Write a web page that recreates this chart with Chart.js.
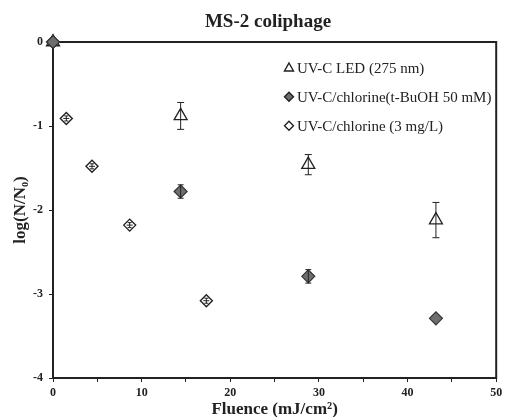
<!DOCTYPE html>
<html>
<head>
<meta charset="utf-8">
<script src="https://cdn.jsdelivr.net/npm/chart.js@4/dist/chart.umd.min.js"></script>
<style>
html,body{margin:0;padding:0;background:#fff;}
#wrap{width:505px;height:417px;}
</style>
</head>
<body>
<div id="wrap"><canvas id="c" width="505" height="417"></canvas></div>
<script>
const chartTitle = 'MS-2 coliphage';
const xTitle = 'Fluence (mJ/cm\u00B2)';
const yTitle = 'log(N/N\u2080)';
const seriesNames = ['UV-C LED (275 nm)', 'UV-C/chlorine(t-BuOH 50 mM)', 'UV-C/chlorine (3 mg/L)'];

const ledX = [0, 14.4, 28.8, 43.2];
const ledY = [0, -0.88, -1.46, -2.12];
const ledErr = [0, 0.16, 0.12, 0.21];

const tbuX = [0, 14.4, 28.8, 43.2];
const tbuY = [0, -1.78, -2.79, -3.29];
const tbuErr = [0, 0.08, 0.08, 0];

const clX = [0, 1.5, 4.4, 8.65, 17.3];
const clY = [0, -0.91, -1.48, -2.18, -3.08];
const clErr = [0, 0.03, 0.03, 0.03, 0.03];

const xTickValues = [0, 5, 10, 15, 20, 25, 30, 35, 40, 45, 50];
const xTickLabels = ['0', '', '10', '', '20', '', '30', '', '40', '', '50'];
const yTickValues = [0, -1, -2, -3, -4];
const yTickLabels = ['0', '-1', '-2', '-3', '-4'];

const INK = '#222';
const SERIF = "'Liberation Serif', 'Times New Roman', serif";

function pts(xs, ys) { return xs.map((v, i) => ({x: v, y: ys[i]})); }

const errorBars = {
  id: 'errorBars',
  afterDatasetsDraw(chart) {
    const {ctx, scales: {x, y}} = chart;
    ctx.save();
    ctx.strokeStyle = INK;
    ctx.lineWidth = 1;
    chart.data.datasets.forEach((ds) => {
      if (!ds.yErr) return;
      ds.data.forEach((p, j) => {
        const e = ds.yErr[j];
        if (!e) return;
        const px = x.getPixelForValue(p.x);
        const t = y.getPixelForValue(p.y + e);
        const b = y.getPixelForValue(p.y - e);
        const cw = ds.capHalf;
        ctx.beginPath();
        ctx.moveTo(px, t); ctx.lineTo(px, b);
        ctx.moveTo(px - cw, t); ctx.lineTo(px + cw, t);
        ctx.moveTo(px - cw, b); ctx.lineTo(px + cw, b);
        if (ds.xCross) {
          const py = y.getPixelForValue(p.y);
          ctx.moveTo(px - 3, py); ctx.lineTo(px + 3, py);
        }
        ctx.stroke();
      });
    });
    ctx.restore();
  }
};

const frame = {
  id: 'frame',
  beforeDatasetsDraw(chart) {
    const {ctx, chartArea: a} = chart;
    ctx.save();
    ctx.strokeStyle = INK;
    ctx.lineWidth = 2;
    ctx.strokeRect(a.left, a.top, a.right - a.left, a.bottom - a.top);
    ctx.restore();
  }
};

const decor = {
  id: 'decor',
  afterDraw(chart) {
    const {ctx} = chart;
    ctx.save();
    ctx.fillStyle = INK;
    ctx.font = "bold 19px " + SERIF;
    ctx.textAlign = 'center';
    ctx.textBaseline = 'alphabetic';
    ctx.fillText(chartTitle, 268, 27);
    const lx = 289, tx = 297;
    const rows = [67.5, 96.7, 125.7];
    ctx.font = "15px " + SERIF;
    ctx.textAlign = 'left';
    ctx.lineWidth = 1.4;
    rows.forEach((ry, i) => {
      ctx.beginPath();
      if (i === 0) {
        ctx.moveTo(lx, ry - 4.5); ctx.lineTo(lx + 4.5, ry + 3.5); ctx.lineTo(lx - 4.5, ry + 3.5); ctx.closePath();
        ctx.fillStyle = '#fff'; ctx.fill(); ctx.strokeStyle = INK; ctx.stroke();
      } else {
        ctx.moveTo(lx, ry - 4.5); ctx.lineTo(lx + 4.5, ry); ctx.lineTo(lx, ry + 4.5); ctx.lineTo(lx - 4.5, ry); ctx.closePath();
        ctx.fillStyle = i === 1 ? '#6e6e6e' : '#fff'; ctx.fill(); ctx.strokeStyle = INK; ctx.stroke();
      }
      ctx.fillStyle = INK;
      ctx.fillText(seriesNames[i], tx, ry + 5);
    });
    ctx.restore();
  }
};

new Chart(document.getElementById('c'), {
  type: 'scatter',
  data: {
    datasets: [
      {
        label: seriesNames[1], data: pts(tbuX, tbuY), yErr: tbuErr, capHalf: 3,
        pointStyle: 'rectRot', radius: 6.5, hoverRadius: 6.5, clip: false,
        backgroundColor: '#6e6e6e', borderColor: '#333', borderWidth: 1.2, order: 0
      },
      {
        label: seriesNames[2], data: pts(clX, clY), yErr: clErr, capHalf: 2, xCross: true,
        pointStyle: 'rectRot', radius: 6, hoverRadius: 6, clip: false,
        backgroundColor: '#fff', borderColor: INK, borderWidth: 1.4, order: 1
      },
      {
        label: seriesNames[0], data: pts(ledX, ledY), yErr: ledErr, capHalf: 3.5,
        pointStyle: 'triangle', radius: 7.5, hoverRadius: 7.5, clip: false,
        backgroundColor: 'rgba(255,255,255,0)', borderColor: INK, borderWidth: 1.3, order: 2
      }
    ]
  },
  options: {
    responsive: false,
    animation: false,
    devicePixelRatio: 1,
    layout: {padding: {top: 42, right: 6, left: 0, bottom: 0}},
    plugins: {legend: {display: false}, title: {display: false}, tooltip: {enabled: false}},
    scales: {
      x: {
        type: 'linear', min: 0, max: 50,
        afterFit(s) { s.height = 39; s.paddingLeft = 0; s.paddingRight = 0; },
        afterBuildTicks(s) { s.ticks = xTickValues.map(v => ({value: v})); },
        ticks: {
          padding: 4, maxRotation: 0, autoSkip: false,
          color: INK, font: {family: SERIF, weight: 'bold', size: 12},
          callback: (v) => xTickLabels[xTickValues.indexOf(v)]
        },
        grid: {drawOnChartArea: false, drawTicks: true, tickLength: 4, color: INK, lineWidth: 1},
        border: {display: true, color: INK, width: 2},
        title: {display: true, text: xTitle, color: INK, font: {family: SERIF, weight: 'bold', size: 17}, padding: {top: 0, bottom: -3}}
      },
      y: {
        type: 'linear', min: -4, max: 0,
        afterFit(s) { s.width = 53; s.paddingTop = 0; s.paddingBottom = 0; },
        afterBuildTicks(s) { s.ticks = yTickValues.map(v => ({value: v})); },
        ticks: {
          padding: 6, autoSkip: false,
          color: INK, font: {family: SERIF, weight: 'bold', size: 12},
          callback: (v) => yTickLabels[yTickValues.indexOf(v)]
        },
        grid: {drawOnChartArea: false, drawTicks: true, tickLength: 4, color: INK, lineWidth: 1},
        border: {display: true, color: INK, width: 2},
        title: {display: true, text: yTitle, color: INK, font: {family: SERIF, weight: 'bold', size: 17}, padding: {top: 10, bottom: 0}}
      }
    }
  },
  plugins: [frame, errorBars, decor]
});
</script>
</body>
</html>
